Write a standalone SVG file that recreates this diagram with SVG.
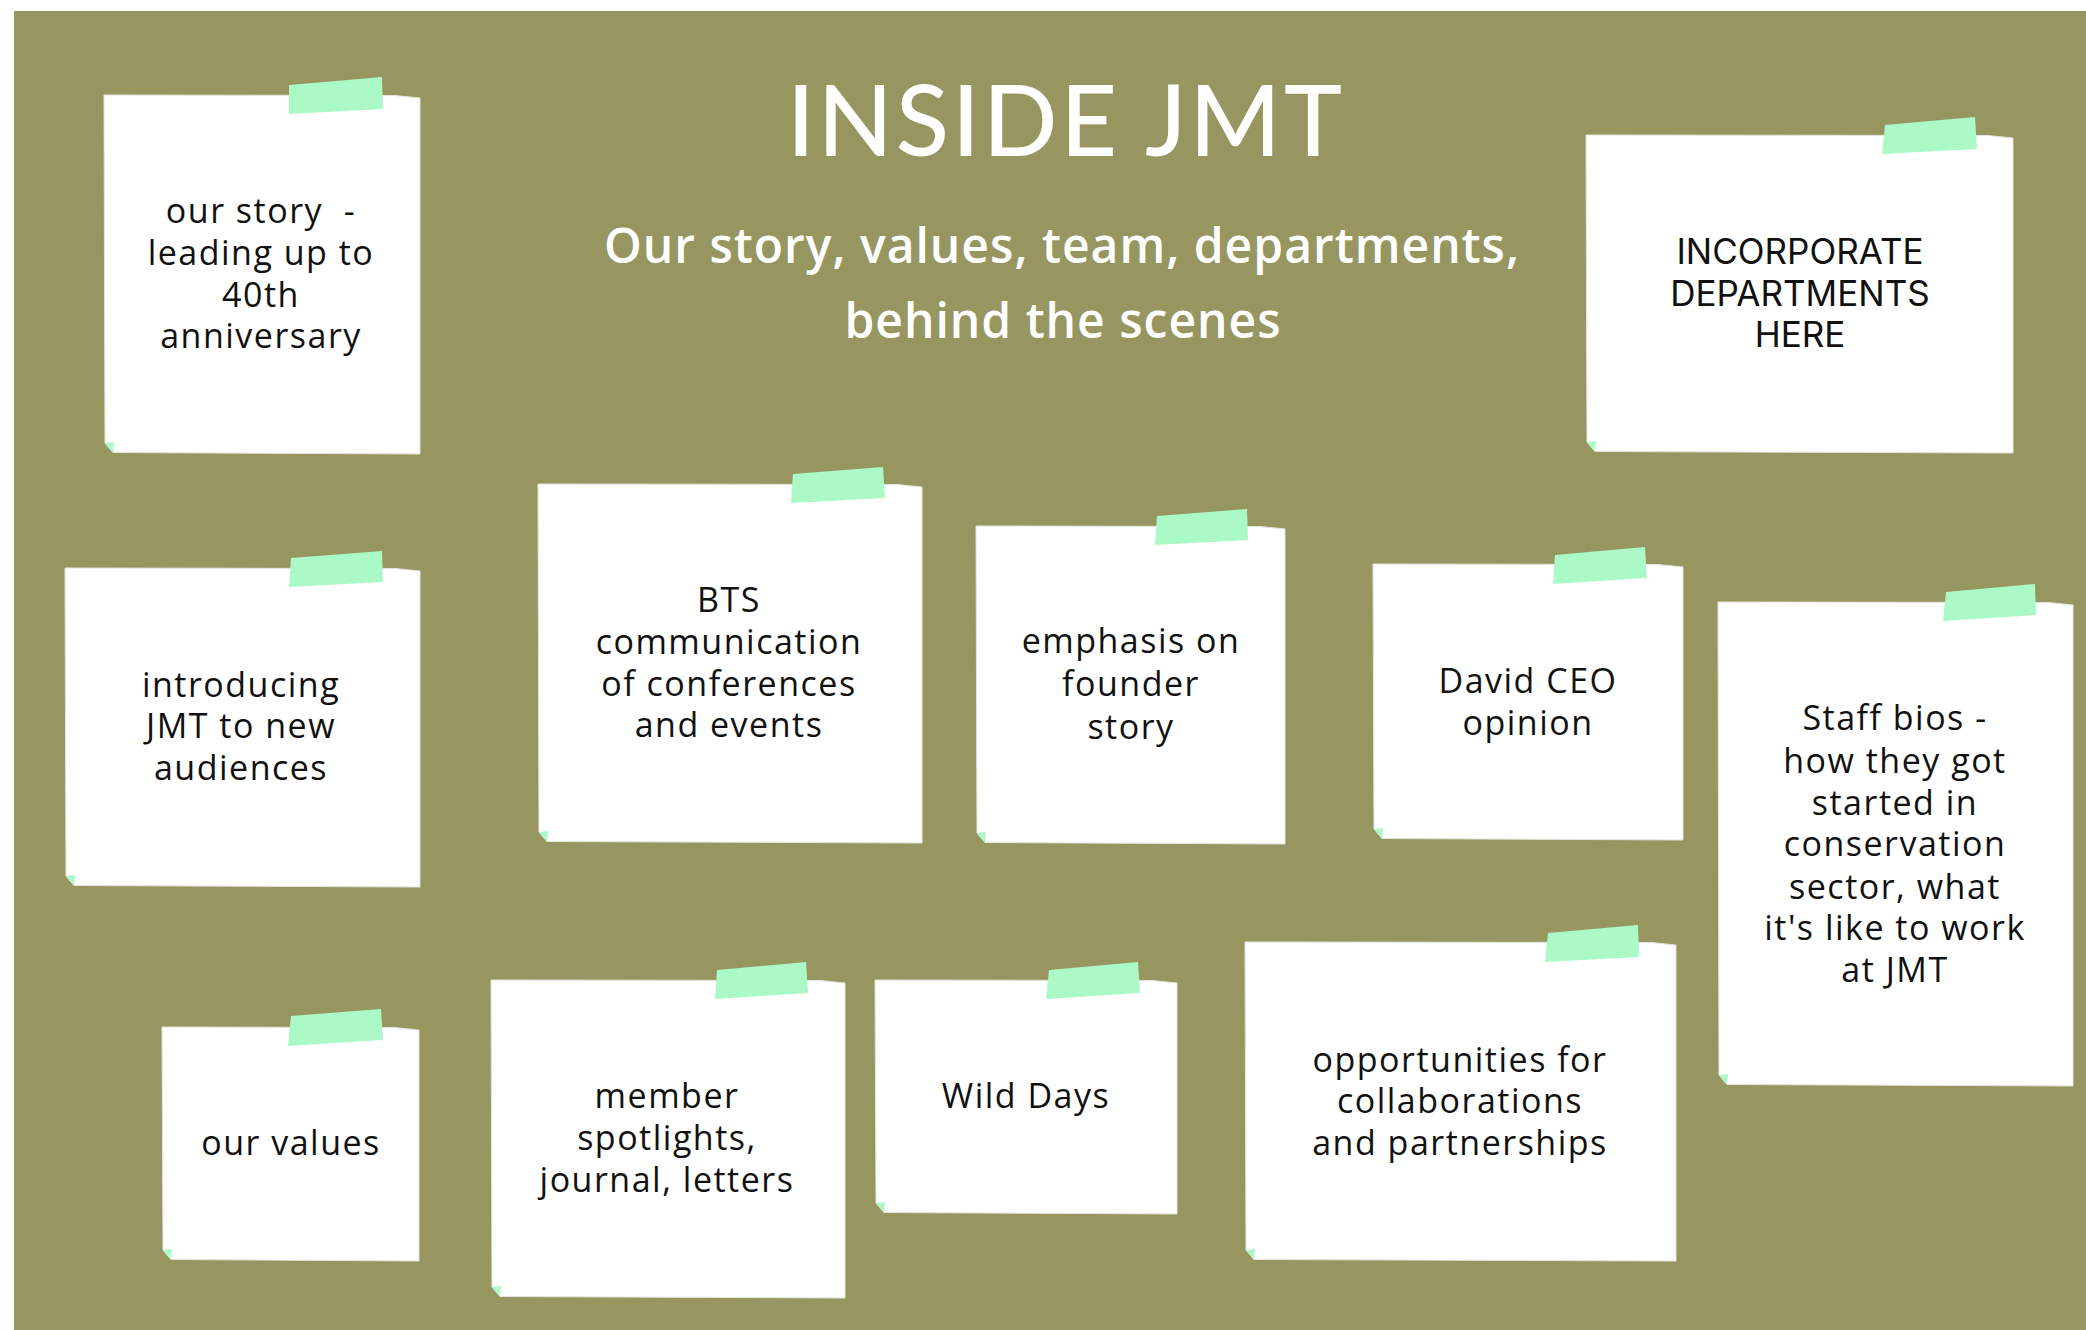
<svg xmlns="http://www.w3.org/2000/svg" width="2086" height="1330" viewBox="0 0 2086 1330">
<style>
.paper{fill:#ffffff;stroke:#e4e4e0;stroke-width:1}
.fold{fill:#abf9c7}
.tape{fill:#abf9c7}
.t{font-family:"Open Sans",Lato,sans-serif;font-size:34px;letter-spacing:1.5px;fill:#111111;text-anchor:middle}
.caps{font-family:Inter,Lato,sans-serif;font-size:35px;fill:#111111;text-anchor:middle}
.title{font-family:Lato,"Open Sans",sans-serif;font-size:98px;font-weight:500;letter-spacing:3px;fill:#ffffff;text-anchor:middle}
.sub{font-family:"Open Sans",Lato,sans-serif;font-size:48px;font-weight:600;letter-spacing:1px;fill:#ffffff;text-anchor:middle}
</style>
<rect x="0" y="0" width="2086" height="1330" fill="#ffffff"/>
<rect x="14" y="11" width="2072" height="1319" fill="#979661"/>
<g id="title">
<text class="title" x="1066" y="156">INSIDE JMT</text>
<text class="sub" x="1062" y="263">Our story, values, team, departments,</text>
<text class="sub" x="1063" y="338">behind the scenes</text>
</g>
<g id="connectors"></g>
<g id="note-our-story">
<path class="paper" d="M104 95 L395 95.5 L420 98 L420 454 L113 452.5 L105 443 Z"/>
<path class="fold" d="M105 443 L114 442 L113 452.5 Z"/>
<path class="tape" d="M289 85 L382 77 L383 109 L289 114 Z"/>
<text class="t" x="261" y="223">our story&#160; -</text>
<text class="t" x="261" y="265">leading up to</text>
<text class="t" x="261" y="307">40th</text>
<text class="t" x="261" y="348">anniversary</text>
</g>
<g id="note-departments">
<path class="paper" d="M1586 135 L1988 135.5 L2013 138 L2013 453 L1595 451.5 L1587 442 Z"/>
<path class="fold" d="M1587 442 L1596 441 L1595 451.5 Z"/>
<path class="tape" d="M1885 125 L1975 117 L1977 149 L1882 154 Z"/>
<text class="caps" x="1800" y="264">INCORPORATE</text>
<text class="caps" x="1800" y="306">DEPARTMENTS</text>
<text class="caps" x="1800" y="347">HERE</text>
</g>
<g id="note-introducing">
<path class="paper" d="M65 568 L395 568.5 L420 571 L420 887 L74 885.5 L66 876 Z"/>
<path class="fold" d="M66 876 L75 875 L74 885.5 Z"/>
<path class="tape" d="M291 558 L382 551 L383 582 L289 587 Z"/>
<text class="t" x="241" y="697">introducing</text>
<text class="t" x="241" y="738">JMT to new</text>
<text class="t" x="241" y="780">audiences</text>
</g>
<g id="note-bts">
<path class="paper" d="M538 484 L897 484.5 L922 487 L922 843 L547 841.5 L539 832 Z"/>
<path class="fold" d="M539 832 L548 831 L547 841.5 Z"/>
<path class="tape" d="M793 474 L883 467 L885 498 L791 503 Z"/>
<text class="t" x="729" y="612">BTS</text>
<text class="t" x="729" y="654">communication</text>
<text class="t" x="729" y="696">of conferences</text>
<text class="t" x="729" y="737">and events</text>
</g>
<g id="note-founder">
<path class="paper" d="M976 526 L1260 526.5 L1285 529 L1285 844 L985 842.5 L977 833 Z"/>
<path class="fold" d="M977 833 L986 832 L985 842.5 Z"/>
<path class="tape" d="M1157 516 L1247 509 L1248 540 L1155 545 Z"/>
<text class="t" x="1131" y="653">emphasis on</text>
<text class="t" x="1131" y="696">founder</text>
<text class="t" x="1131" y="739">story</text>
</g>
<g id="note-ceo">
<path class="paper" d="M1373 564 L1658 564.5 L1683 567 L1683 840 L1382 838.5 L1374 829 Z"/>
<path class="fold" d="M1374 829 L1383 828 L1382 838.5 Z"/>
<path class="tape" d="M1555 555 L1645 547 L1647 578 L1553 584 Z"/>
<text class="t" x="1528" y="693">David CEO</text>
<text class="t" x="1528" y="735">opinion</text>
</g>
<g id="note-staff">
<path class="paper" d="M1718 602 L2048 602.5 L2073 605 L2073 1086 L1727 1084.5 L1719 1075 Z"/>
<path class="fold" d="M1719 1075 L1728 1074 L1727 1084.5 Z"/>
<path class="tape" d="M1946 592 L2035 584 L2036 615 L1943 621 Z"/>
<text class="t" x="1895" y="730">Staff bios -</text>
<text class="t" x="1895" y="773">how they got</text>
<text class="t" x="1895" y="815">started in</text>
<text class="t" x="1895" y="856">conservation</text>
<text class="t" x="1895" y="899">sector, what</text>
<text class="t" x="1895" y="940">it's like to work</text>
<text class="t" x="1895" y="982">at JMT</text>
</g>
<g id="note-values">
<path class="paper" d="M162 1027 L394 1027.5 L419 1030 L419 1261 L171 1259.5 L163 1250 Z"/>
<path class="fold" d="M163 1250 L172 1249 L171 1259.5 Z"/>
<path class="tape" d="M291 1016 L381 1009 L383 1040 L288 1046 Z"/>
<text class="t" x="291" y="1155">our values</text>
</g>
<g id="note-member">
<path class="paper" d="M491 980 L820 980.5 L845 983 L845 1298 L500 1296.5 L492 1287 Z"/>
<path class="fold" d="M492 1287 L501 1286 L500 1296.5 Z"/>
<path class="tape" d="M717 970 L806 962 L808 993 L715 999 Z"/>
<text class="t" x="667" y="1108">member</text>
<text class="t" x="667" y="1150">spotlights,</text>
<text class="t" x="667" y="1192">journal, letters</text>
</g>
<g id="note-wild-days">
<path class="paper" d="M875 980 L1152 980.5 L1177 983 L1177 1214 L884 1212.5 L876 1203 Z"/>
<path class="fold" d="M876 1203 L885 1202 L884 1212.5 Z"/>
<path class="tape" d="M1049 970 L1138 962 L1140 993 L1046 999 Z"/>
<text class="t" x="1026" y="1108">Wild Days</text>
</g>
<g id="note-collaborations">
<path class="paper" d="M1245 942 L1651 942.5 L1676 945 L1676 1261 L1254 1259.5 L1246 1250 Z"/>
<path class="fold" d="M1246 1250 L1255 1249 L1254 1259.5 Z"/>
<path class="tape" d="M1548 933 L1638 925 L1639 957 L1545 962 Z"/>
<text class="t" x="1460" y="1072">opportunities for</text>
<text class="t" x="1460" y="1113">collaborations</text>
<text class="t" x="1460" y="1155">and partnerships</text>
</g>
</svg>
